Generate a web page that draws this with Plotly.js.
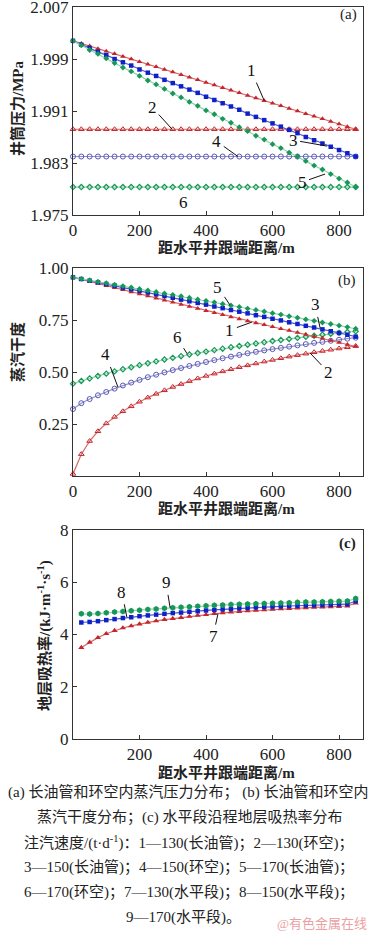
<!DOCTYPE html>
<html>
<head>
<meta charset="utf-8">
<script src="https://cdn.plot.ly/plotly-3.0.1.min.js"></script>
<style>
html,body{margin:0;padding:0;background:#fff;}
#chart{width:376px;height:931px;}
</style>
</head>
<body>
<div id="chart"></div>
<script>
// ---------- data ----------
const distAB = [0,25,50,75,100,125,150,175,200,225,250,275,300,325,350,375,400,425,450,475,500,525,550,575,600,625,650,675,700,725,750,775,800,825,850];
const distC = [25,50,75,100,125,150,175,200,225,250,275,300,325,350,375,400,425,450,475,500,525,550,575,600,625,650,675,700,725,750,775,800,825,850];

// (a) wellbore pressure, MPa
const pressTube130 = [2.0018,2.0014,2.0010,2.0006,2.0002,1.9998,1.9994,1.9990,1.9986,1.9982,1.9978,1.9974,1.9970,1.9966,1.9962,1.9958,1.9954,1.9950,1.9946,1.9942,1.9938,1.9934,1.9930,1.9926,1.9922,1.9918,1.9914,1.9910,1.9906,1.9902,1.9898,1.9894,1.9890,1.9886,1.9882];
const pressAnn130 = [1.9882,1.9882,1.9882,1.9882,1.9882,1.9882,1.9882,1.9882,1.9882,1.9882,1.9882,1.9882,1.9882,1.9882,1.9882,1.9882,1.9882,1.9882,1.9882,1.9882,1.9882,1.9882,1.9882,1.9882,1.9882,1.9882,1.9882,1.9882,1.9882,1.9882,1.9882,1.9882,1.9882,1.9882,1.9882];
const pressTube150 = [2.0018,2.0012,2.0007,2.0001,1.9996,1.9990,1.9985,1.9980,1.9974,1.9969,1.9964,1.9958,1.9953,1.9948,1.9943,1.9938,1.9932,1.9927,1.9922,1.9917,1.9912,1.9906,1.9901,1.9896,1.9891,1.9886,1.9881,1.9876,1.9870,1.9865,1.9860,1.9855,1.9850,1.9845,1.9840];
const pressAnn150 = [1.9840,1.9840,1.9840,1.9840,1.9840,1.9840,1.9840,1.9840,1.9840,1.9840,1.9840,1.9840,1.9840,1.9840,1.9840,1.9840,1.9840,1.9840,1.9840,1.9840,1.9840,1.9840,1.9840,1.9840,1.9840,1.9840,1.9840,1.9840,1.9840,1.9840,1.9840,1.9840,1.9840,1.9840,1.9840];
const pressTube170 = [2.0018,2.0011,2.0004,1.9998,1.9991,1.9984,1.9977,1.9971,1.9964,1.9957,1.9951,1.9944,1.9937,1.9931,1.9924,1.9918,1.9911,1.9905,1.9898,1.9892,1.9885,1.9879,1.9872,1.9866,1.9859,1.9853,1.9846,1.9840,1.9833,1.9826,1.9820,1.9813,1.9806,1.9800,1.9793];
const pressAnn170 = [1.9793,1.9793,1.9793,1.9793,1.9793,1.9793,1.9793,1.9793,1.9793,1.9793,1.9793,1.9793,1.9793,1.9793,1.9793,1.9793,1.9793,1.9793,1.9793,1.9793,1.9793,1.9793,1.9793,1.9793,1.9793,1.9793,1.9793,1.9793,1.9793,1.9793,1.9793,1.9793,1.9793,1.9793,1.9793];

// (b) steam quality
const qualTube130 = [0.955,0.945,0.935,0.925,0.915,0.905,0.895,0.885,0.875,0.865,0.855,0.845,0.835,0.825,0.815,0.805,0.795,0.785,0.775,0.765,0.755,0.745,0.736,0.727,0.718,0.708,0.699,0.690,0.681,0.671,0.662,0.652,0.642,0.632,0.622];
const qualAnn130 = [0.010,0.105,0.168,0.215,0.253,0.284,0.311,0.335,0.357,0.377,0.395,0.412,0.428,0.442,0.456,0.469,0.481,0.492,0.503,0.513,0.523,0.532,0.541,0.550,0.558,0.566,0.574,0.581,0.588,0.595,0.601,0.607,0.613,0.619,0.625];
const qualTube150 = [0.955,0.947,0.939,0.931,0.923,0.915,0.906,0.898,0.890,0.882,0.873,0.865,0.857,0.848,0.840,0.832,0.824,0.815,0.807,0.798,0.790,0.782,0.773,0.765,0.756,0.748,0.739,0.731,0.722,0.714,0.705,0.696,0.688,0.679,0.670];
const qualAnn150 = [0.322,0.350,0.370,0.388,0.404,0.420,0.435,0.449,0.462,0.475,0.487,0.498,0.509,0.519,0.529,0.539,0.548,0.557,0.566,0.574,0.582,0.590,0.597,0.604,0.610,0.616,0.622,0.628,0.634,0.640,0.645,0.650,0.655,0.660,0.665];
const qualTube170 = [0.955,0.948,0.941,0.934,0.927,0.920,0.913,0.906,0.899,0.892,0.885,0.878,0.871,0.864,0.857,0.849,0.842,0.835,0.827,0.820,0.813,0.805,0.798,0.791,0.783,0.776,0.768,0.761,0.753,0.746,0.738,0.731,0.723,0.716,0.708];
const qualAnn170 = [0.444,0.457,0.469,0.481,0.492,0.503,0.513,0.523,0.533,0.542,0.551,0.560,0.568,0.576,0.584,0.591,0.598,0.605,0.612,0.619,0.625,0.631,0.637,0.643,0.649,0.654,0.659,0.664,0.669,0.674,0.679,0.684,0.688,0.692,0.696];

// (c) formation heat absorption rate, kJ/(m·s)
const heat130 = [3.50,3.70,3.88,4.03,4.15,4.25,4.33,4.40,4.46,4.52,4.57,4.61,4.65,4.69,4.73,4.76,4.80,4.83,4.86,4.88,4.90,4.92,4.94,4.96,4.98,4.99,5.01,5.02,5.04,5.05,5.06,5.07,5.09,5.20];
const heat150 = [4.46,4.48,4.51,4.55,4.59,4.63,4.66,4.70,4.73,4.76,4.79,4.82,4.84,4.87,4.89,4.92,4.94,4.96,4.98,5.00,5.02,5.04,5.06,5.07,5.08,5.09,5.10,5.11,5.12,5.13,5.14,5.15,5.16,5.28];
const heat170 = [4.79,4.78,4.80,4.83,4.86,4.88,4.91,4.93,4.96,4.98,5.00,5.02,5.04,5.06,5.08,5.10,5.12,5.13,5.15,5.16,5.17,5.18,5.19,5.20,5.21,5.22,5.23,5.24,5.24,5.25,5.26,5.27,5.28,5.38];

const pressTicks = [1.975,1.983,1.991,1.999,2.007];
const pressTickText = ['1.975','1.983','1.991','1.999','2.007'];
const qualTicks = [0.25,0.50,0.75,1.00];
const qualTickText = ['0.25','0.50','0.75','1.00'];
const heatTicks = [0,2,4,6,8];
const distTicksAB = [0,200,400,600,800];
const distTicksC = [200,400,600,800];

// ---------- styles ----------
const RED = '#c4262c', REDL = '#d86a6a';
const BLUE = '#1020c8', BLUEL = '#4a5ad0';
const BLUEO = '#5858b4', BLUEOL = '#9090d0';
const GRN = '#189858', GRNL = '#8ed4ac';

function tr(x, y, xa, ya, mcol, lcol, sym, size, mline) {
  return {
    type:'scatter', mode:'lines+markers', x:x, y:y, xaxis:xa, yaxis:ya, cliponaxis:false,
    line:{color:lcol, width:1.2},
    marker:{color:mcol, symbol:sym, size:size, line:{color:mcol, width:mline||0}},
    hoverinfo:'skip'
  };
}

const data = [
  tr(distAB, pressAnn130, 'x','y', RED, REDL, 'triangle-up-open', 5, 1),
  tr(distAB, pressAnn150, 'x','y', BLUEO, BLUEOL, 'circle-open', 5, 1),
  tr(distAB, pressAnn170, 'x','y', GRN, GRNL, 'diamond-open', 4, 1.2),
  tr(distAB, pressTube130, 'x','y', RED, REDL, 'triangle-up', 5),
  tr(distAB, pressTube150, 'x','y', BLUE, BLUEL, 'square', 4.5),
  tr(distAB, pressTube170, 'x','y', GRN, GRNL, 'diamond', 4.5),

  tr(distAB, qualAnn130, 'x2','y2', RED, REDL, 'triangle-up-open', 5, 1),
  tr(distAB, qualAnn150, 'x2','y2', BLUEO, BLUEOL, 'circle-open', 5, 1),
  tr(distAB, qualAnn170, 'x2','y2', GRN, GRNL, 'diamond-open', 4, 1.2),
  tr(distAB, qualTube130, 'x2','y2', RED, REDL, 'triangle-up', 5),
  tr(distAB, qualTube150, 'x2','y2', BLUE, BLUEL, 'square', 4.5),
  tr(distAB, qualTube170, 'x2','y2', GRN, GRNL, 'diamond', 4.5),

  tr(distC, heat130, 'x3','y3', RED, REDL, 'triangle-up', 5.5),
  tr(distC, heat150, 'x3','y3', BLUE, BLUEL, 'square', 4.5),
  tr(distC, heat170, 'x3','y3', GRN, GRNL, 'hexagon', 6)
];

const W = 376, H = 931;
const SERIF = 'Liberation Serif, Noto Sans CJK SC, serif';
const CJK = 'Liberation Serif, Noto Sans CJK SC, sans-serif';
function axis(extra) {
  return Object.assign({
    showline:true, linecolor:'#333', linewidth:1, mirror:true,
    ticks:'inside', ticklen:4, tickcolor:'#333', tickwidth:1,
    showgrid:false, zeroline:false, fixedrange:true, ticklabeloverflow:'allow',
    tickfont:{family:SERIF, size:17, color:'#222'}
  }, extra);
}
const xdom = [73/W, 363/W];
function ydom(top, bottom) { return [1 - bottom/H, 1 - top/H]; }

// paper-space text helper
function txt(text, px, py, size, opts) {
  return Object.assign({
    xref:'paper', yref:'paper', x:px/W, y:1-py/H, text:text, showarrow:false,
    xanchor:'center', yanchor:'middle',
    font:{family:CJK, size:size, color:'#222'}
  }, opts||{});
}
// leader label helper
function lab(text, xr, yr, x, y, ax, ay) {
  return {xref:xr, yref:yr, x:x, y:y, ax:ax, ay:ay, text:text, showarrow:true,
    arrowhead:0, arrowwidth:1, arrowcolor:'#111', standoff:0, startstandoff:1,
    font:{family:SERIF, size:17, color:'#111'}};
}

const annotations = [
  // panel letters
  txt('(a)', 348, 15, 15, {font:{family:SERIF,size:15,color:'#222'}}),
  txt('(b)', 347, 280, 15, {font:{family:SERIF,size:15,color:'#222'}}),
  txt('<b>(c)</b>', 347, 543, 15, {font:{family:SERIF,size:15,color:'#222'}}),
  // axis titles
  txt('<b>距水平井跟端距离/m</b>', 226, 248, 15),
  txt('<b>距水平井跟端距离/m</b>', 226, 508, 15),
  txt('<b>距水平井跟端距离/m</b>', 226, 772, 15),
  txt('<b>井筒压力/MPa</b>', 17, 109, 15, {textangle:-90}),
  txt('<b>蒸汽干度</b>', 17, 352, 15, {textangle:-90}),
  txt('<b>地层吸热率/(kJ·m<sup>-1</sup>·s<sup>-1</sup>)</b>', 44, 636, 15, {textangle:-90}),
  // panel (a) labels
  lab('1','x','y', 575, 1.9926, -13, -30),
  lab('2','x','y', 298, 1.9882, -20, -22),
  lab('3','x','y', 764, 1.9856, -34, -6),
  lab('4','x','y', 496, 1.9840, -21, -15),
  lab('5','x','y', 758, 1.9813, -23, 8),
  lab('6','x','y', 271, 1.9793, 20, 15),
  // panel (b) labels
  lab('5','x2','y2', 472, 0.822, -12, -18),
  lab('3','x2','y2', 743, 0.712, -5, -23),
  lab('1','x2','y2', 538, 0.740, -22, 8),
  lab('6','x2','y2', 343, 0.588, -10, -16),
  lab('4','x2','y2', 135, 0.428, -12, -32),
  lab('2','x2','y2', 713, 0.591, 18, 19),
  // panel (c) labels
  lab('8','x3','y3', 162, 4.66, -5, -25),
  lab('9','x3','y3', 292, 5.02, -4, -25),
  lab('7','x3','y3', 436, 4.80, -5, 23),
  // caption
  txt('(a) 长油管和环空内蒸汽压力分布； (b) 长油管和环空内', 188, 792, 15),
  txt('蒸汽干度分布；(c) 水平段沿程地层吸热率分布', 189, 817, 15),
  txt('注汽速度/(t·d<sup>-1</sup>)：1—130(长油管)；2—130(环空)；', 189, 842, 15),
  txt('3—150(长油管)；4—150(环空)；5—170(长油管)；', 189, 867, 15),
  txt('6—170(环空)；7—130(水平段)；8—150(水平段)；', 189, 892, 15),
  txt('9—170(水平段)。', 183, 917, 15),
  txt('@有色金属在线', 322, 923, 13, {font:{family:CJK,size:13,color:'#eaa0a4'}})
];

const layout = {
  width:W, height:H, margin:{l:0,r:0,t:0,b:0},
  paper_bgcolor:'#ffffff', plot_bgcolor:'#ffffff', showlegend:false,
  font:{family:SERIF, size:15, color:'#222'},
  xaxis: axis({domain:xdom, anchor:'y', range:[0,872], tickvals:distTicksAB}),
  yaxis: axis({domain:ydom(7,215), anchor:'x', range:[1.975,2.00701], tickvals:pressTicks, ticktext:pressTickText}),
  xaxis2: axis({domain:xdom, anchor:'y2', range:[0,872], tickvals:distTicksAB}),
  yaxis2: axis({domain:ydom(268,476), anchor:'x2', range:[0,1.0], tickvals:qualTicks, ticktext:qualTickText}),
  xaxis3: axis({domain:xdom, anchor:'y3', range:[0,872], tickvals:distTicksC}),
  yaxis3: axis({domain:ydom(530,739), anchor:'x3', range:[0,8], tickvals:heatTicks}),
  annotations: annotations
};

Plotly.newPlot('chart', data, layout, {staticPlot:true, displayModeBar:false});
</script>
</body>
</html>
